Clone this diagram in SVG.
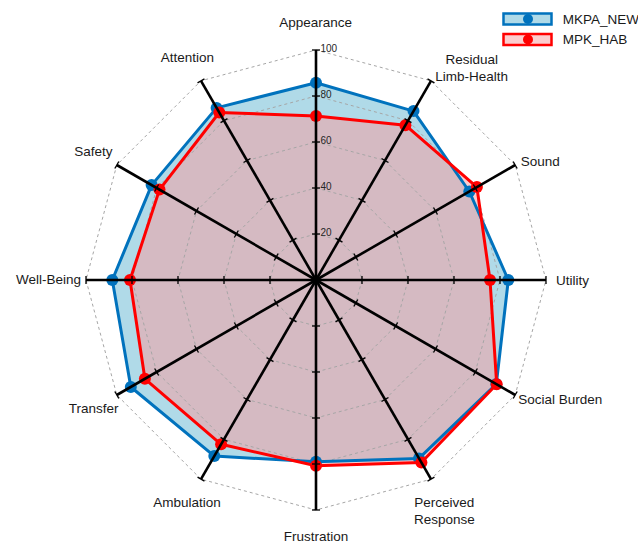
<svg xmlns="http://www.w3.org/2000/svg" width="638" height="545" viewBox="0 0 638 545">
<style>
.lbl{font-family:"Liberation Sans",Arial,sans-serif;font-size:13.5px;fill:#1a1a1a}
.tk{font-family:"Liberation Sans",Arial,sans-serif;font-size:10px;fill:#262626}
.grid{fill:none;stroke:#a6a6a6;stroke-width:1;stroke-dasharray:3,3}
.f1{fill:#B0DAE8;stroke:none}
.f2{fill:#FA9A9C;fill-opacity:0.5;stroke:none}
.l1{fill:none;stroke:#0072BD;stroke-width:3;stroke-linejoin:round}
.l2{fill:none;stroke:#FF0000;stroke-width:3;stroke-linejoin:round}
.m1{fill:#0072BD}
.m2{fill:#FF0000}
</style>
<defs>
<g id="axis" stroke="#000">
<line stroke-width="2.6" x1="316" y1="280" x2="316" y2="50"/>
<line stroke-width="1.3" x1="312" y1="234" x2="320" y2="234"/>
<line stroke-width="1.3" x1="312" y1="188" x2="320" y2="188"/>
<line stroke-width="1.3" x1="312" y1="142" x2="320" y2="142"/>
<line stroke-width="1.3" x1="312" y1="96" x2="320" y2="96"/>
<line stroke-width="1.3" x1="312" y1="50" x2="320" y2="50"/>
</g>
</defs>
<rect width="638" height="545" fill="#fff"/>

<g id="fills">
<polygon class="f1" points="316,82.7 413.5,111.1 469.3,191.5 508.3,280 496.3,384 419,458.4 316,461.7 214.3,456.1 130.8,387 112.3,280 151.6,185.1 216.6,107.9"/>
<polygon class="f2" points="316,116 405.4,125.2 476.9,187.1 490,280 496.7,384.3 421.4,462.5 316,465.7 221.1,444.3 144.9,378.8 130,280 159.5,189.6 219.3,112.5"/>
</g>

<g id="grid">
<polygon class="grid" points="316,50 431,80.8 515.2,165 546,280 515.2,395 431,479.2 316,510 201,479.2 116.8,395 86,280 116.8,165 201,80.8"/>
<polygon class="grid" points="316,96 408,120.7 475.3,188 500,280 475.3,372 408,439.3 316,464 224,439.3 156.7,372 132,280 156.7,188 224,120.7"/>
<polygon class="grid" points="316,142 385,160.5 435.5,211 454,280 435.5,349 385,399.5 316,418 247,399.5 196.5,349 178,280 196.5,211 247,160.5"/>
<polygon class="grid" points="316,188 362,200.3 395.7,234 408,280 395.7,326 362,359.7 316,372 270,359.7 236.3,326 224,280 236.3,234 270,200.3"/>
<polygon class="grid" points="316,234 339,240.2 355.8,257 362,280 355.8,303 339,319.8 316,326 293,319.8 276.2,303 270,280 276.2,257 293,240.2"/>
</g>

<g id="series-mkpa">
<polygon class="l1" points="316,82.7 413.5,111.1 469.3,191.5 508.3,280 496.3,384 419,458.4 316,461.7 214.3,456.1 130.8,387 112.3,280 151.6,185.1 216.6,107.9"/>
<g class="m1">
<circle cx="316" cy="82.7" r="6"/><circle cx="413.5" cy="111.1" r="6"/><circle cx="469.3" cy="191.5" r="6"/><circle cx="508.3" cy="280" r="6"/><circle cx="496.3" cy="384" r="6"/><circle cx="419" cy="458.4" r="6"/><circle cx="316" cy="461.7" r="6"/><circle cx="214.3" cy="456.1" r="6"/><circle cx="130.8" cy="387" r="6"/><circle cx="112.3" cy="280" r="6"/><circle cx="151.6" cy="185.1" r="6"/><circle cx="216.6" cy="107.9" r="6"/>
</g>
</g>
<g id="series-mpk">
<polygon class="l2" points="316,116 405.4,125.2 476.9,187.1 490,280 496.7,384.3 421.4,462.5 316,465.7 221.1,444.3 144.9,378.8 130,280 159.5,189.6 219.3,112.5"/>
<g class="m2">
<circle cx="316" cy="116" r="6"/><circle cx="405.4" cy="125.2" r="6"/><circle cx="476.9" cy="187.1" r="6"/><circle cx="490" cy="280" r="6"/><circle cx="496.7" cy="384.3" r="6"/><circle cx="421.4" cy="462.5" r="6"/><circle cx="316" cy="465.7" r="6"/><circle cx="221.1" cy="444.3" r="6"/><circle cx="144.9" cy="378.8" r="6"/><circle cx="130" cy="280" r="6"/><circle cx="159.5" cy="189.6" r="6"/><circle cx="219.3" cy="112.5" r="6"/>
</g>
</g>

<g id="axes">
<use href="#axis"/>
<use href="#axis" transform="rotate(30 316 280)"/>
<use href="#axis" transform="rotate(60 316 280)"/>
<use href="#axis" transform="rotate(90 316 280)"/>
<use href="#axis" transform="rotate(120 316 280)"/>
<use href="#axis" transform="rotate(150 316 280)"/>
<use href="#axis" transform="rotate(180 316 280)"/>
<use href="#axis" transform="rotate(210 316 280)"/>
<use href="#axis" transform="rotate(240 316 280)"/>
<use href="#axis" transform="rotate(270 316 280)"/>
<use href="#axis" transform="rotate(300 316 280)"/>
<use href="#axis" transform="rotate(330 316 280)"/>
</g>

<g id="tick-labels">
<text class="tk" x="320.5" y="51.5">100</text>
<text class="tk" x="320.5" y="97.5">80</text>
<text class="tk" x="320.5" y="143.5">60</text>
<text class="tk" x="320.5" y="189.5">40</text>
<text class="tk" x="320.5" y="235.5">20</text>
</g>

<g id="labels">
<text class="lbl" x="315.7" y="27.3" text-anchor="middle">Appearance</text>
<text class="lbl" x="471.7" y="63.5" text-anchor="middle">Residual</text>
<text class="lbl" x="471.7" y="80.5" text-anchor="middle">Limb-Health</text>
<text class="lbl" x="520.7" y="166">Sound</text>
<text class="lbl" x="556" y="285">Utility</text>
<text class="lbl" x="518.3" y="404">Social Burden</text>
<text class="lbl" x="444.3" y="507.3" text-anchor="middle">Perceived</text>
<text class="lbl" x="444.3" y="523.5" text-anchor="middle">Response</text>
<text class="lbl" x="316" y="540.6" text-anchor="middle">Frustration</text>
<text class="lbl" x="187" y="507.3" text-anchor="middle">Ambulation</text>
<text class="lbl" x="118.6" y="412.7" text-anchor="end">Transfer</text>
<text class="lbl" x="81" y="283.5" text-anchor="end">Well-Being</text>
<text class="lbl" x="112.5" y="156" text-anchor="end">Safety</text>
<text class="lbl" x="187.3" y="61.7" text-anchor="middle">Attention</text>
</g>

<g id="legend">
<rect x="503.5" y="13.5" width="48" height="11" fill="#B0DAE8" stroke="#0072BD" stroke-width="2.5"/>
<circle cx="528" cy="19" r="5" fill="#0072BD"/>
<text class="lbl" x="562.7" y="24" font-size="14">MKPA_NEW</text>
<rect x="503.5" y="34" width="48" height="11" fill="#FCCDCE" stroke="#FF0000" stroke-width="2.5"/>
<circle cx="528" cy="39.5" r="5" fill="#FF0000"/>
<text class="lbl" x="562.7" y="44" font-size="14">MPK_HAB</text>
</g>
</svg>
